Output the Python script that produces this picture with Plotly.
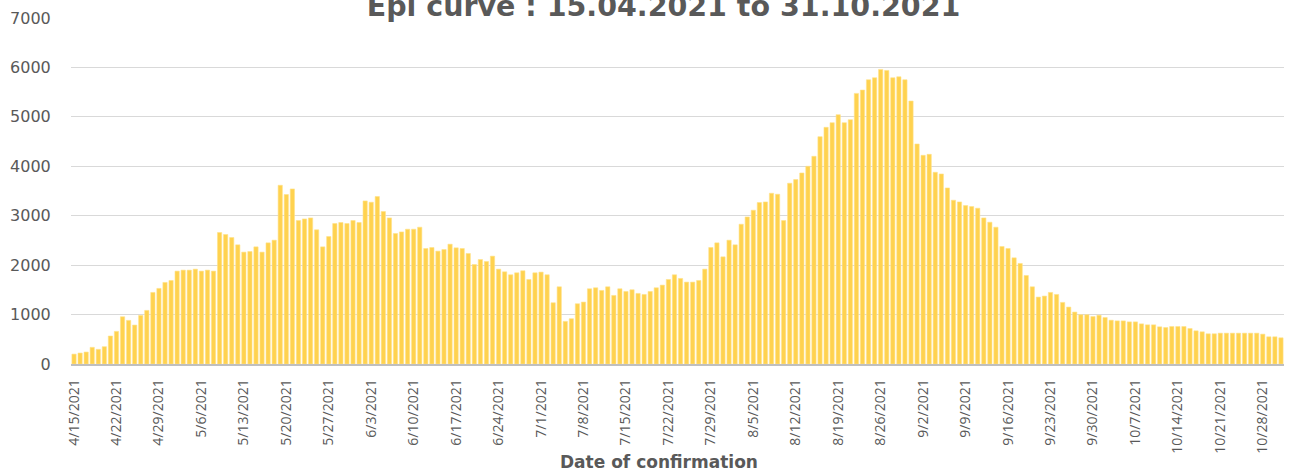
import pandas as pd
import plotly.graph_objects as go

dates = pd.date_range("2021-04-15", "2021-10-31", freq="D")

apr = [200, 222, 242, 337, 296, 350, 566, 660, 956, 882, 788, 983, 1084, 1448, 1529, 1650]
may = [1690, 1879, 1899, 1899, 1919, 1879, 1899, 1879, 2660, 2620, 2559, 2411, 2263, 2276, 2370,
       2263, 2451, 2505, 3616, 3428, 3542, 2902, 2936, 2956, 2714, 2370, 2579, 2842, 2862, 2842, 2902]
jun = [2862, 3300, 3273, 3387, 3084, 2956, 2640, 2673, 2727, 2727, 2768, 2337, 2357, 2283, 2316,
       2424, 2350, 2337, 2236, 2013, 2114, 2074, 2182, 1919, 1865, 1805, 1845, 1886, 1710, 1845]
jul = [1859, 1805, 1239, 1562, 862, 916, 1219, 1253, 1522, 1542, 1488, 1562, 1387, 1522, 1468,
       1502, 1428, 1407, 1468, 1542, 1596, 1710, 1805, 1731, 1657, 1657, 1690, 1919, 2357, 2451, 2168]
aug = [2505, 2411, 2828, 2976, 3111, 3266, 3279, 3455, 3434, 2902, 3657, 3731, 3865, 4000, 4202,
       4599, 4788, 4882, 5044, 4882, 4943, 5475, 5542, 5751, 5791, 5960, 5939, 5791, 5811, 5751, 5320]
sep = [4451, 4222, 4242, 3879, 3845, 3562, 3313, 3279, 3205, 3185, 3152, 2956, 2869, 2768, 2377,
       2337, 2148, 2034, 1791, 1562, 1354, 1374, 1448, 1407, 1246, 1152, 1051, 997, 997, 960]
oct_ = [987, 940, 886, 872, 872, 852, 852, 812, 792, 792, 752, 738, 758, 758, 758, 718, 671, 651,
        611, 611, 624, 624, 624, 624, 624, 624, 624, 604, 550, 550, 530]

cases = apr + may + jun + jul + aug + sep + oct_

y_ticks = [0, 1000, 2000, 3000, 4000, 5000, 6000, 7000]
title_text = "Epi curve : 15.04.2021 to 31.10.2021"
x_title = "Date of confirmation"

GRAY = "#595959"

fig = go.Figure(go.Bar(
    x=dates, y=cases,
    marker=dict(color="#FFD24F", line=dict(color="#FFE38A", width=0.6)),
))

fig.update_layout(
    width=1310, height=474,
    margin=dict(l=71, r=26, t=18, b=110),
    paper_bgcolor="white", plot_bgcolor="white",
    bargap=0.3,
    showlegend=False,
    title=dict(text="<b>" + title_text + "</b>", x=663.5 / 1310, xanchor="center",
               y=1 - 6 / 474, yanchor="middle",
               font=dict(family="DejaVu Sans", size=28.5, color=GRAY)),
    annotations=[dict(text="<b>" + x_title + "</b>", xref="paper", yref="paper",
                      x=(658.5 - 71) / 1213, y=(364 - 462) / 346,
                      xanchor="center", yanchor="middle", showarrow=False,
                      font=dict(family="DejaVu Sans", size=17, color=GRAY))],
)

fig.update_xaxes(
    type="date", automargin=False,
    range=[dates[0] - pd.Timedelta(hours=12), dates[-1] + pd.Timedelta(hours=12)],
    tick0=dates[0], dtick=7 * 24 * 3600 * 1000,
    tickformat="%-m/%-d/%Y", tickangle=-90,
    tickfont=dict(family="Open Sans", size=14, color=GRAY),
    ticks="outside", ticklen=8, tickcolor="rgba(0,0,0,0)",
    showgrid=False, showline=True, linecolor="#BFBFBF", linewidth=1.5,
)

fig.update_yaxes(
    range=[0, 7000], tickvals=y_ticks, automargin=False,
    tickfont=dict(family="DejaVu Sans", size=16, color=GRAY),
    ticks="outside", ticklen=16, tickcolor="rgba(0,0,0,0)",
    showgrid=True, gridcolor="#D9D9D9", gridwidth=1.2,
    zeroline=False, showline=False,
)

fig.write_html("out.html", config={"displayModeBar": False},
               post_script="document.body.style.margin='0';")
